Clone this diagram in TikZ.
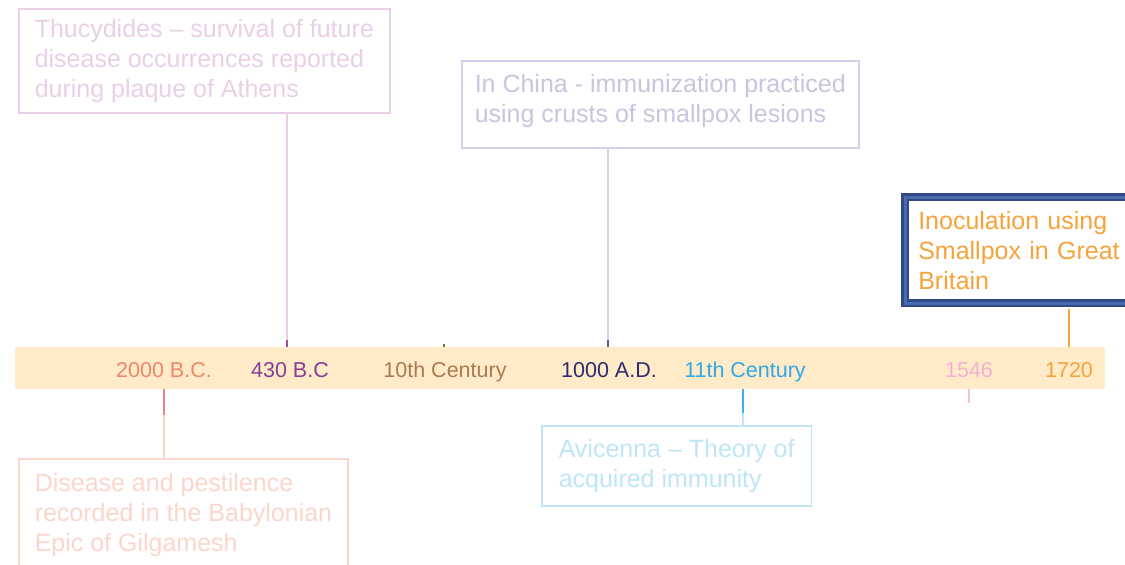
\documentclass[tikz,border=0pt]{standalone}
\usepackage{fontspec}
\setmainfont{Liberation Sans}
\usepackage{tikz}
\usepackage{xcolor}
\definecolor{bandfill}{HTML}{FFEBC8}
\definecolor{salmon}{HTML}{F0866C}
\definecolor{salmondark}{HTML}{F0887A}
\definecolor{salmonpale}{HTML}{FBD6CD}
\definecolor{plum}{HTML}{8A3C96}
\definecolor{plumdark}{HTML}{9B4FA0}
\definecolor{plumpale}{HTML}{E9CFE8}
\definecolor{tan}{HTML}{A97B4E}
\definecolor{tandark}{HTML}{8B6A40}
\definecolor{navy}{HTML}{2C2C6E}
\definecolor{navydark}{HTML}{5A5A9A}
\definecolor{navypale}{HTML}{D2D2EA}
\definecolor{navytext}{HTML}{C6C6DF}
\definecolor{sky}{HTML}{30A8E8}
\definecolor{skydark}{HTML}{3DB0EC}
\definecolor{skypale}{HTML}{BEE6F8}
\definecolor{rose}{HTML}{F4B0D0}
\definecolor{rosedark}{HTML}{F4BFD8}
\definecolor{amber}{HTML}{F7A23A}
\definecolor{frameouter}{HTML}{2F4A85}
\definecolor{framemid}{HTML}{4A6AB0}
\tikzstyle{event} = [rectangle, draw, fill=white, line width=1.5pt, align=left, anchor=north west, inner ysep=0pt, font=\fontsize{25}{30}\selectfont]
\tikzstyle{year} = [anchor=base, inner sep=0pt, font=\fontsize{21.5}{26}\selectfont]
\tikzstyle{tick} = [line width=2pt]
\tikzstyle{point} = [coordinate]

\begin{document}
\begin{tikzpicture}[x=1pt, y=-1pt]
        \useasboundingbox (0,0) rectangle (1125,565);
        \node (band) [rectangle, fill=bandfill, minimum width=1090pt, minimum height=42pt, inner sep=0pt, anchor=north west] at (15,347) {};

        \node (y2000) [year, text=salmon] at (164,377) {2000 B.C.};
        \node (y430) [year, text=plum] at (290,377) {430 B.C};
        \node (y10c) [year, text=tan] at (445,377) {10th Century};
        \node (y1000) [year, text=navy] at (609,377) {1000 A.D.};
        \node (y11c) [year, text=sky] at (745,377) {11th Century};
        \node (y1546) [year, text=rose] at (969,377) {1546};
        \node (y1720) [year, text=amber] at (1069,377) {1720};

        \node (thucydides) [event, draw=plumpale, text=plumpale, inner xsep=16pt, minimum height=104pt] at (18,8) {Thucydides – survival of future\\disease occurrences reported\\during plaque of Athens};
        \node (china) [event, draw=navypale, text=navytext, inner xsep=13pt, minimum height=87pt] at (461,60) {In China - immunization practiced\\using crusts of smallpox lesions\rule[-11pt]{0pt}{11pt}};
        \node (gilgamesh) [event, draw=salmonpale, text=salmonpale, inner xsep=16pt, minimum height=113pt] at (18,458) {Disease and pestilence\\recorded in the Babylonian\\Epic of Gilgamesh};
        \node (avicenna) [event, draw=skypale, text=skypale, inner xsep=17pt, minimum height=80pt] at (541,425) {Avicenna – Theory of\\acquired immunity};
        \node (inoculation) [event, draw=frameouter, double=framemid, double distance=3pt, line width=2.5pt, text=amber, inner xsep=13pt, text width=212pt, minimum height=106pt] at (904,196) {Inoculation using\\Smallpox in Great\\Britain};

        \node (p2000) [point] at (164,415) {};
        \node (p430) [point] at (287,340) {};
        \node (p10c) [point] at (444,344) {};
        \node (p1000) [point] at (608,340) {};
        \node (p11c) [point] at (743,413) {};
        \node (p1546) [point] at (969,403) {};
        \node (p1720) [point] at (1069,347) {};

        \draw [tick, salmondark] (band.south -| p2000) -- (p2000);
        \draw [tick, salmonpale] (p2000) -- (gilgamesh.north -| p2000);
        \draw [tick, plumpale] (thucydides.south -| p430) -- (p430);
        \draw [tick, plumdark] (p430) -- (band.north -| p430);
        \draw [tick, tandark] (p10c) -- (band.north -| p10c);
        \draw [tick, navypale] (china.south -| p1000) -- (p1000);
        \draw [tick, navydark] (p1000) -- (band.north -| p1000);
        \draw [tick, skydark] (band.south -| p11c) -- (p11c);
        \draw [tick, skypale] (p11c) -- (avicenna.north -| p11c);
        \draw [tick, rosedark] (band.south -| p1546) -- (p1546);
        \draw [tick, amber, shorten <=4pt] (inoculation.south -| p1720) -- (p1720);

\end{tikzpicture}
\end{document}
